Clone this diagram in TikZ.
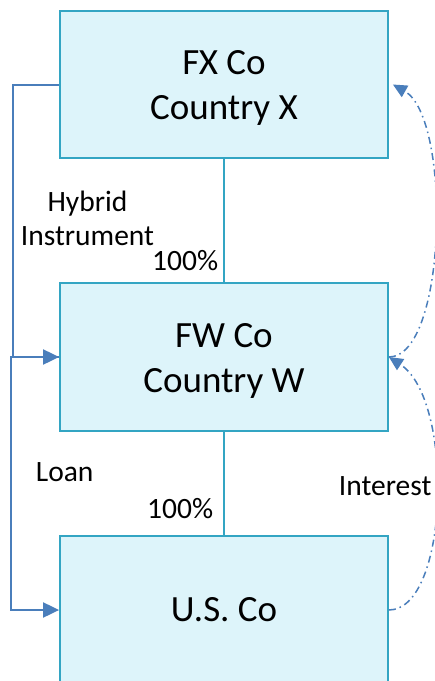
\documentclass[tikz,border=0pt]{standalone}
\usepackage{fontspec}
\setmainfont{Carlito}
\usetikzlibrary{arrows.meta,positioning}
\definecolor{boxfill}{HTML}{DDF4FA}
\definecolor{boxline}{HTML}{33A5C3}
\definecolor{flowblue}{HTML}{4A7EBB}

\begin{document}
\begin{tikzpicture}[x=1pt,y=-1pt,line width=1.8pt]
\tikzstyle entity=[draw=boxline,fill=boxfill,minimum width=328pt,minimum height=148pt,
    align=center,inner sep=0pt,font=\fontsize{37}{45}\selectfont]
\tikzstyle twoline=[text height=76pt]
\tikzstyle owns=[draw=boxline]
\tikzstyle flow=[draw=flowblue,line width=2pt,-{Triangle[length=16pt,width=15pt]}]
\tikzstyle pay=[flow,line width=1.5pt,dash pattern=on 7pt off 4pt on 1.5pt off 4pt,
    -{Triangle[length=14pt,width=13pt]}]
\tikzstyle lbl=[inner sep=0pt,align=center,font=\fontsize{29.5}{34}\selectfont]
\useasboundingbox (0,0) rectangle (435,681);
 \node[entity,twoline,minimum height=147pt] (fxco) at (224,84.5) {FX Co\\Country X};
 \node[entity,twoline] (fwco) at (224,357) {FW Co\\Country W};
 \node[entity] (usco) at (224,610) {U.S. Co};
 % ownership
 \draw[owns] (fxco) -- (fwco);
 \draw[owns] (fwco) -- (usco);
 \node[lbl,anchor=base east] (own1) at (219,270) {100\%};
 \node[lbl,anchor=base east] (own2) at (214,518) {100\%};
 % flows on the left
 \draw[flow] (fxco.west) -- ++(-46,0) |- (fwco.west);
 \draw[flow] (fwco.west) -- ++(-48,0) |- (usco.west);
 \node[lbl,anchor=base] (hybrid) at (87.5,245) {Hybrid\\Instrument};
 \node[lbl,anchor=base west] (loan) at (35,481) {Loan};
 % payments on the right
 \draw[pay] (usco.east) .. controls (449,610) and (455,400) .. (fwco.east);
 \draw[pay] (fwco.east) .. controls (447,357) and (452,118) .. ([xshift=4pt]fxco.east);
 \node[lbl,anchor=base west] (interest) at (338,495) {Interest};
\end{tikzpicture}
\end{document}
